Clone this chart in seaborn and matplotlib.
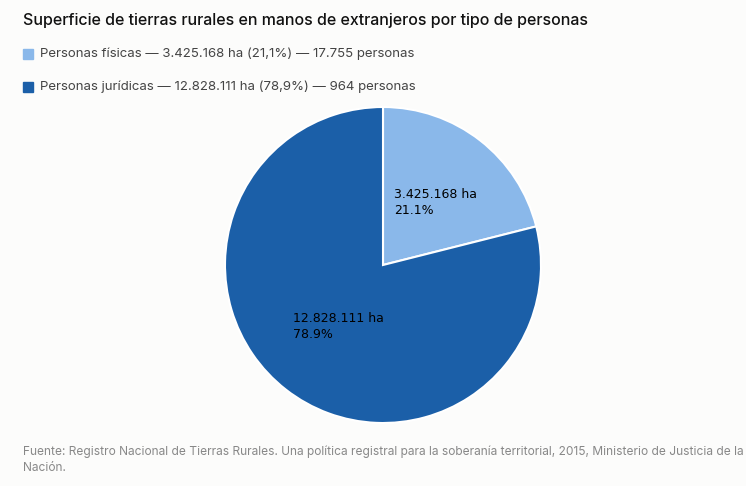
import matplotlib
matplotlib.use('Agg')
import matplotlib.pyplot as plt
import seaborn as sns

sns.set_style('white')
plt.rcParams['font.family'] = ['Inter', 'DejaVu Sans']

# Data
categorias = ['Personas físicas', 'Personas jurídicas']
hectareas = [3425168, 12828111]
hect_txt = ['3.425.168', '12.828.111']
pct_txt = ['21,1%', '78,9%']
pct_lbl = ['21.1%', '78.9%']
personas = ['17.755', '964']
colores = ['#8ab8ea', '#1b5fa8']

bg = '#fcfcfb'
fig = plt.figure(figsize=(7.46, 4.86), dpi=100, facecolor=bg)
ax = fig.add_axes([225/746, (486-423)/486, 316/746, 316/486])
ax.set_facecolor(bg)

ax.pie(hectareas, colors=colores, startangle=90, counterclock=False,
       radius=1, wedgeprops=dict(edgecolor='white', linewidth=1.5))
ax.set_xlim(-1, 1)
ax.set_ylim(-1, 1)
ax.set_aspect('equal')
ax.axis('off')

label_pos = [(0.07, 0.49), (-0.57, -0.3)]
for (x, y), h, p in zip(label_pos, hect_txt, pct_lbl):
    ax.text(x, y, f'{h} ha\n{p}', ha='left', va='top', fontsize=9,
            color='black', family='DejaVu Sans', linespacing=1.3)

fig.text(23/746, 1 - 20/486, 'Superficie de tierras rurales en manos de extranjeros por tipo de personas',
         fontsize=11.5, fontweight='medium', color='#111111', va='center')

for i, yy in enumerate([54, 87]):
    fig.patches.append(plt.Rectangle((23/746, 1 - (yy + 5)/486), 10/746, 10/486,
                                     transform=fig.transFigure, color=colores[i]))
    fig.text(40/746, 1 - yy/486,
             f'{categorias[i]} — {hect_txt[i]} ha ({pct_txt[i]}) — {personas[i]} personas',
             fontsize=9.5, color='#444444', va='center')

fig.text(23/746, 1 - 452/486,
         'Fuente: Registro Nacional de Tierras Rurales. Una política registral para la soberanía territorial, 2015, Ministerio de Justicia de la',
         fontsize=8.6, color='#888888', va='center')
fig.text(23/746, 1 - 468/486, 'Nación.', fontsize=8.6, color='#888888', va='center')

fig.savefig('out.png', dpi=100, facecolor=bg)
